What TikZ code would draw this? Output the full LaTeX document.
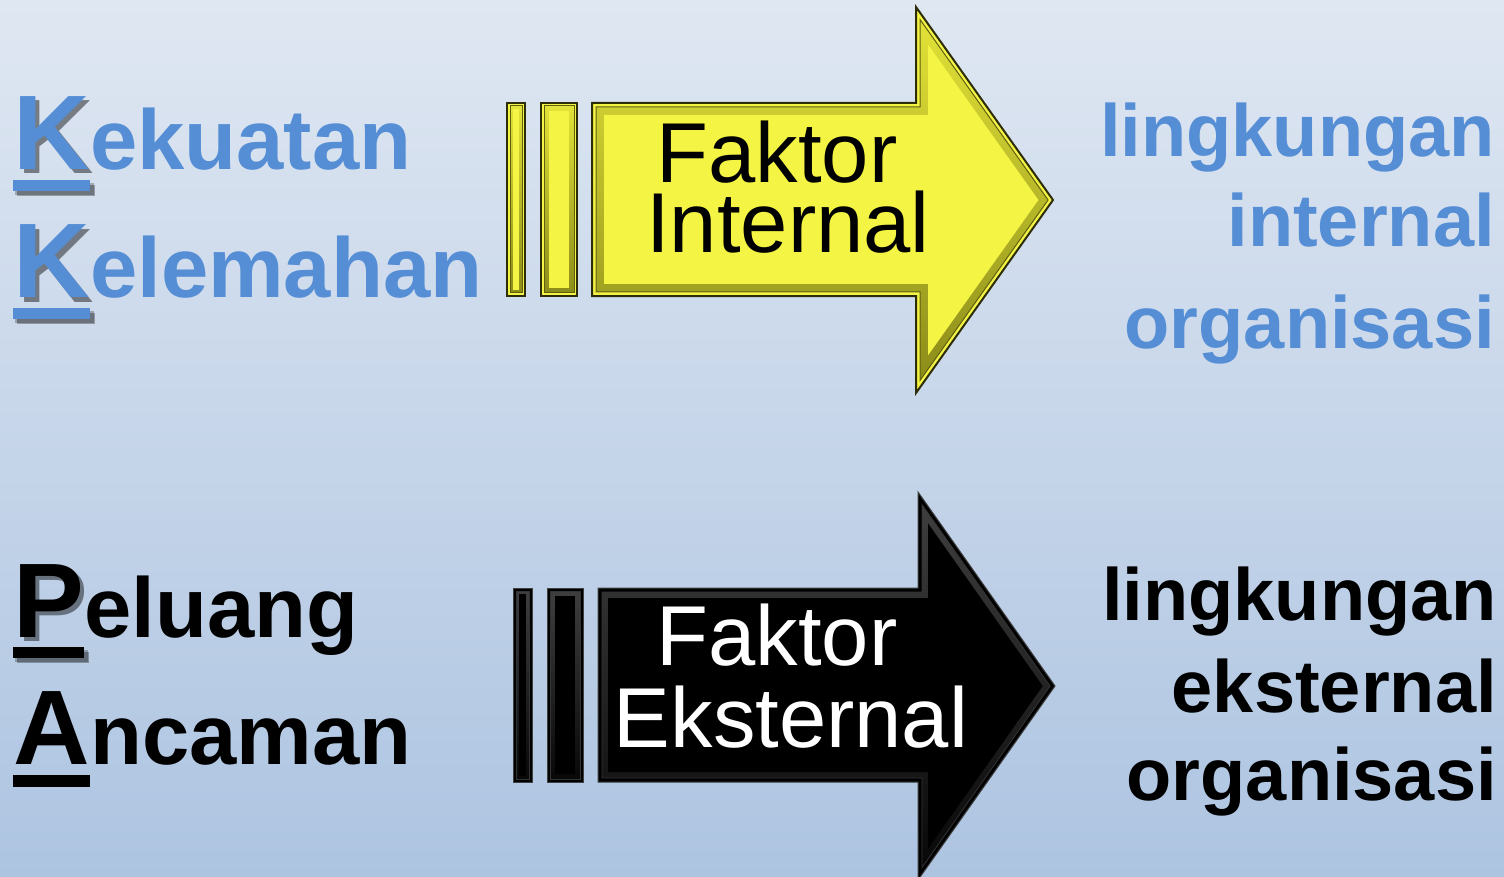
\documentclass[tikz,border=0pt]{standalone}
\usepackage{fontspec}
\setmainfont{Liberation Sans}
\definecolor{bgtop}{RGB}{223,231,242}
\definecolor{bgbot}{RGB}{173,196,225}
\definecolor{kblue}{RGB}{85,142,213}
\definecolor{ylwin}{RGB}{244,244,68}
\definecolor{ylwtop}{RGB}{226,226,56}
\definecolor{ylwbot}{RGB}{140,140,26}
\definecolor{ylwline}{RGB}{45,45,10}
\definecolor{ylwmid}{RGB}{95,95,18}
\definecolor{blktop}{RGB}{62,62,62}
\definecolor{blkbot}{RGB}{8,8,8}
\tikzset{
  bigfirst/.style={inner sep=0pt, anchor=base west, font=\fontsize{106}{106}\selectfont\bfseries},
  resttxt/.style={inner sep=0pt, anchor=base west, font=\fontsize{85}{85}\selectfont\bfseries},
  righttxt/.style={inner sep=0pt, anchor=base east, font=\fontsize{74}{74}\selectfont\bfseries},
  arrowtxt/.style={inner sep=0pt, anchor=base, font=\fontsize{85}{85}\selectfont},
  shadowtxt/.style={text=black, opacity=0.45},
  yout/.style={fill=ylwin, draw=ylwline, line width=2pt, line join=miter},
  yband/.style={top color=ylwtop, bottom color=ylwbot, draw=ylwmid, line width=1pt, line join=miter},
  yinner/.style={fill=ylwin},
  bout/.style={fill=black, draw=black!75, line width=1pt, line join=miter},
  bband/.style={top color=blktop, bottom color=blkbot, draw=black!80, line width=0.8pt, line join=miter},
  binner/.style={fill=black},
}
\begin{document}
\begin{tikzpicture}[x=1pt,y=-1pt]
% background
\shade[top color=bgtop, bottom color=bgbot] (0,0) rectangle (1504,877);
\useasboundingbox (0,0) rectangle (1504,877);

% ---------- yellow arrow (internal) ----------
\draw[yout] (507,103) rectangle (525,296);
\draw[yband] (510,106) rectangle (522,293);
\fill[yinner] (513,109) rectangle (519,290);
\draw[yout] (541,103) rectangle (577,296);
\draw[yband] (544,106) rectangle (574,293);
\fill[yinner] (549,111) rectangle (569,288);
\draw[yout] (592,103) -- (916,103) -- (916,7) -- (1053,200) -- (916,393) -- (916,296) -- (592,296) -- cycle;
\draw[yband] (596,107) -- (920,107) -- (920,19.5) -- (1048.1,200) -- (920,380.5) -- (920,292) -- (596,292) -- cycle;
\fill[yinner] (604,115) -- (928,115) -- (928,44.6) -- (1038.4,200) -- (928,355.4) -- (928,284) -- (604,284) -- cycle;
\node[arrowtxt] (fi1) at (777,183) {Faktor};
\node[arrowtxt] (fi2) at (788,253) {Internal};

% ---------- black arrow (external) ----------
\draw[bout] (513,588) rectangle (532,782);
\draw[bband] (516,591) rectangle (529,779);
\fill[binner] (519,594) rectangle (526,776);
\draw[bout] (547,588) rectangle (583,782);
\draw[bband] (550,591) rectangle (580,779);
\fill[binner] (555,596) rectangle (575,774);
\draw[bout] (598,588) -- (918,588) -- (918,492) -- (1055,686) -- (918,880) -- (918,782) -- (598,782) -- cycle;
\draw[bband] (602,592) -- (922,592) -- (922,504.5) -- (1050.1,686) -- (922,867.5) -- (922,778) -- (602,778) -- cycle;
\fill[binner] (608,598) -- (928,598) -- (928,523.3) -- (1042.7,686) -- (928,848.7) -- (928,772) -- (608,772) -- cycle;
\node[arrowtxt, text=white] (fe1) at (777,665) {Faktor};
\node[arrowtxt, text=white] (fe2) at (791,747) {Eksternal};

% ---------- left words ----------
% Kekuatan
\node[bigfirst, shadowtxt] (k1s) at (17,174) {K};
\fill[black, opacity=0.25] (15,183) rectangle (94,195);
\fill[black, opacity=0.3] (17,185) rectangle (95,196);
\node[bigfirst, text=kblue] (k1) at (13,170) {K};
\node[resttxt, text=kblue] (k1r) at (k1.base east) {ekuatan};
\fill[kblue] (13,180) rectangle (90,191);
% Kelemahan
\node[bigfirst, shadowtxt] (k2s) at (17,302) {K};
\fill[black, opacity=0.25] (15,311) rectangle (94,323);
\fill[black, opacity=0.3] (17,313) rectangle (95,324);
\node[bigfirst, text=kblue] (k2) at (13,298) {K};
\node[resttxt, text=kblue] (k2r) at (k2.base east) {elemahan};
\fill[kblue] (13,308) rectangle (90,319);
% Peluang
\node[bigfirst, shadowtxt] (p1s) at (17,641) {P};
\fill[black, opacity=0.25] (15,650) rectangle (88,662);
\fill[black, opacity=0.3] (17,652) rectangle (89,663);
\node[bigfirst] (p1) at (13,637) {P};
\node[resttxt] (p1r) at (p1.base east) {eluang};
\fill[black] (13,647) rectangle (84,658);
% Ancaman
\node[bigfirst] (a1) at (13,764) {A};
\node[resttxt] (a1r) at (a1.base east) {ncaman};
\fill[black] (13,775) rectangle (90,787);

% ---------- right words ----------
\node[righttxt, text=kblue] (ri1) at (1495,157) {lingkungan};
\node[righttxt, text=kblue] (ri2) at (1495,247) {internal};
\node[righttxt, text=kblue] (ri3) at (1495,348) {organisasi};
\node[righttxt] (re1) at (1497,620) {lingkungan};
\node[righttxt] (re2) at (1497,712) {eksternal};
\node[righttxt] (re3) at (1497,800) {organisasi};
\end{tikzpicture}
\end{document}
